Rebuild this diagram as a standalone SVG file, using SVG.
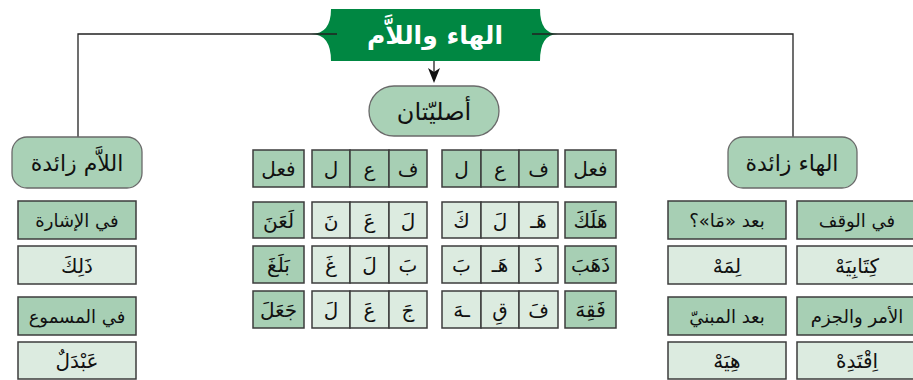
<svg xmlns="http://www.w3.org/2000/svg" width="913" height="380" viewBox="0 0 913 380">
<defs>
<style>
text{font-family:"DejaVu Sans",sans-serif;direction:rtl;text-anchor:middle;fill:#111}
.t{font-size:22px}
.b{font-size:18px}
.c{font-size:20px}
.dk{fill:#a7cfb4;stroke:#3c3c3c;stroke-width:1.5}
.lt{fill:#dcebe0;stroke:#3c3c3c;stroke-width:1.5}
.nd{fill:#a9d1b6;stroke:#6a6a6a;stroke-width:1.3}
.ln{fill:none;stroke:#222;stroke-width:1.3}
</style>
</defs>
<rect width="913" height="380" fill="#fff"/>
<g id="banner">
<path d="M331,9 H540 Q540,34 558,34 Q540,34 540,61 H331 Q331,34 311,34 Q331,34 331,9 Z" fill="#008742"/>
<text x="435" y="44" style="font-size:25px;font-weight:bold;fill:#fff">الهاء  واللاَّم</text>
</g>
<g id="connectors">
<path class="ln" d="M337,34 H78 V137"/>
<path class="ln" d="M532,34 H793 V137"/>
<path class="ln" d="M434,61 V72"/>
<path d="M428,68 L434,83 L440,68 L434,72 Z" fill="#111"/>
</g>
<g id="asliyatan">
<rect class="nd" x="369" y="86" width="130" height="50" rx="25"/>
<text x="434" y="120" style="font-size:24px">أصليّتان</text>
</g>
<g id="lam-zaida">
<rect class="nd" x="12" y="137" width="130" height="51" rx="15"/>
<text class="t" x="77" y="171">اللاَّم زائدة</text>
</g>
<g id="ha-zaida">
<rect class="nd" x="728" y="137" width="129" height="51" rx="15"/>
<text class="t" x="792" y="171">الهاء زائدة</text>
</g>
<g id="left-boxes">
<rect class="dk" x="18" y="201" width="118" height="38"/>
<text class="b" x="77" y="227">في الإشارة</text>
<rect class="lt" x="18" y="246" width="118" height="38"/>
<text class="c" x="77" y="273">ذَلِكَ</text>
<rect class="dk" x="18" y="297" width="118" height="38"/>
<text class="b" x="77" y="323">في المسموع</text>
<rect class="lt" x="18" y="342" width="118" height="37"/>
<text class="c" x="77" y="368">عَبْدَلٌ</text>
</g>
<g id="right-boxes">
<rect class="dk" x="797" y="201" width="120" height="38"/>
<text class="b" x="857" y="227">في الوقف</text>
<rect class="lt" x="797" y="246" width="120" height="38"/>
<text class="c" x="857" y="273">كِتَابِيَهْ</text>
<rect class="dk" x="797" y="297" width="120" height="38"/>
<text class="b" x="857" y="323">الأمر والجزم</text>
<rect class="lt" x="797" y="342" width="120" height="37"/>
<text class="c" x="857" y="368">اِقْتَدِهْ</text>
<rect class="dk" x="668" y="201" width="118" height="38"/>
<text class="b" x="727" y="227">بعد «مَا»؟</text>
<rect class="lt" x="668" y="246" width="118" height="38"/>
<text class="c" x="727" y="273">لِمَهْ</text>
<rect class="dk" x="668" y="297" width="118" height="38"/>
<text class="b" x="727" y="323">بعد المبنيّ</text>
<rect class="lt" x="668" y="342" width="118" height="37"/>
<text class="c" x="727" y="368">هِيَهْ</text>
</g>
<g id="table-left">
<rect class="dk" x="253" y="150" width="51" height="37"/>
<text class="c" x="278.5" y="176">فعل</text>
<rect class="dk" x="312" y="150" width="38" height="37"/>
<rect class="dk" x="350" y="150" width="39" height="37"/>
<rect class="dk" x="389" y="150" width="38" height="37"/>
<text class="c" x="408" y="176">ف</text>
<text class="c" x="369.5" y="176">ع</text>
<text class="c" x="331" y="176">ل</text>
<rect class="dk" x="253" y="202" width="51" height="36"/>
<text class="c" x="278.5" y="228">لَعَنَ</text>
<rect class="lt" x="312" y="202" width="38" height="36"/>
<rect class="lt" x="350" y="202" width="39" height="36"/>
<rect class="lt" x="389" y="202" width="38" height="36"/>
<text class="c" x="408" y="228">لَ</text>
<text class="c" x="369.5" y="228">عَ</text>
<text class="c" x="331" y="228">نَ</text>
<rect class="dk" x="253" y="246" width="51" height="37"/>
<text class="c" x="278.5" y="272">بَلَغَ</text>
<rect class="lt" x="312" y="246" width="38" height="37"/>
<rect class="lt" x="350" y="246" width="39" height="37"/>
<rect class="lt" x="389" y="246" width="38" height="37"/>
<text class="c" x="408" y="272">بَ</text>
<text class="c" x="369.5" y="272">لَ</text>
<text class="c" x="331" y="272">غَ</text>
<rect class="dk" x="253" y="291" width="51" height="37"/>
<text class="c" x="278.5" y="317">جَعَلَ</text>
<rect class="lt" x="312" y="291" width="38" height="37"/>
<rect class="lt" x="350" y="291" width="39" height="37"/>
<rect class="lt" x="389" y="291" width="38" height="37"/>
<text class="c" x="408" y="317">جَ</text>
<text class="c" x="369.5" y="317">عَ</text>
<text class="c" x="331" y="317">لَ</text>
</g>
<g id="table-right">
<rect class="dk" x="565" y="150" width="51" height="37"/>
<text class="c" x="590.5" y="176">فعل</text>
<rect class="dk" x="442" y="150" width="39" height="37"/>
<rect class="dk" x="481" y="150" width="38" height="37"/>
<rect class="dk" x="519" y="150" width="39" height="37"/>
<text class="c" x="538.5" y="176">ف</text>
<text class="c" x="500" y="176">ع</text>
<text class="c" x="461.5" y="176">ل</text>
<rect class="dk" x="565" y="202" width="51" height="36"/>
<text class="c" x="590.5" y="228">هَلَكَ</text>
<rect class="lt" x="442" y="202" width="39" height="36"/>
<rect class="lt" x="481" y="202" width="38" height="36"/>
<rect class="lt" x="519" y="202" width="39" height="36"/>
<text class="c" x="538.5" y="228">هَـ</text>
<text class="c" x="500" y="228">لَ</text>
<text class="c" x="461.5" y="228">كَ</text>
<rect class="dk" x="565" y="246" width="51" height="37"/>
<text class="c" x="590.5" y="272">ذَهَبَ</text>
<rect class="lt" x="442" y="246" width="39" height="37"/>
<rect class="lt" x="481" y="246" width="38" height="37"/>
<rect class="lt" x="519" y="246" width="39" height="37"/>
<text class="c" x="538.5" y="272">ذَ</text>
<text class="c" x="500" y="272">هَـ</text>
<text class="c" x="461.5" y="272">بَ</text>
<rect class="dk" x="565" y="291" width="51" height="37"/>
<text class="c" x="590.5" y="317">فَقِهَ</text>
<rect class="lt" x="442" y="291" width="39" height="37"/>
<rect class="lt" x="481" y="291" width="38" height="37"/>
<rect class="lt" x="519" y="291" width="39" height="37"/>
<text class="c" x="538.5" y="317">فَ</text>
<text class="c" x="500" y="317">قِ</text>
<text class="c" x="461.5" y="317">ـهَ</text>
</g>
</svg>
